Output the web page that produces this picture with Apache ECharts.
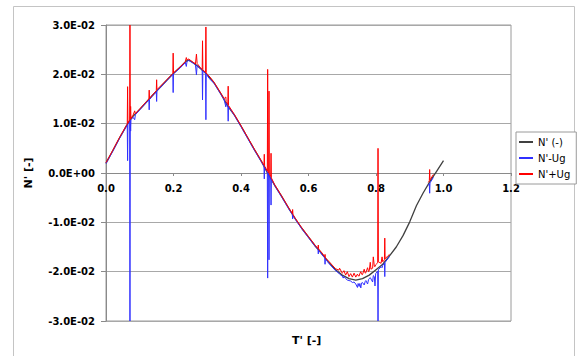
<!DOCTYPE html>
<html><head><meta charset="utf-8">
<script src="https://cdn.jsdelivr.net/npm/echarts@6/dist/echarts.min.js"></script>
<style>html,body{margin:0;padding:0;background:#fff}#c{width:579px;height:356px}</style>
</head><body><div id="c"></div>
<script>
// Series names (legend)
const seriesNames = ["N' (-)", "N'-Ug", "N'+Ug"];
// Axis titles
const xTitle = "T' [-]";
const yTitle = "N' [-]";

// Main curve N' (-)
const tMain = [0.00,0.02,0.04,0.06,0.07,0.08,0.10,0.12,0.14,0.16,0.18,0.20,0.22,0.24,0.245,0.26,0.28,0.30,0.32,0.34,0.36,0.38,0.40,0.42,0.44,0.46,0.48,0.50,0.52,0.54,0.56,0.58,0.60,0.62,0.64,0.66,0.68,0.70,0.72,0.74,0.76,0.78,0.80,0.82,0.84,0.86,0.88,0.90,0.92,0.94,0.96,0.98,1.00];
const nMain = [0.0020,0.0045,0.0071,0.0095,0.0106,0.0115,0.0129,0.0144,0.0159,0.0173,0.0188,0.0202,0.0215,0.0228,0.0229,0.0223,0.0212,0.0199,0.0183,0.0161,0.0136,0.0118,0.0095,0.0071,0.0047,0.0024,-0.0002,-0.0025,-0.0047,-0.0070,-0.0092,-0.0112,-0.0130,-0.0148,-0.0164,-0.0181,-0.0196,-0.0207,-0.0214,-0.0217,-0.0214,-0.0207,-0.0196,-0.0185,-0.0168,-0.0150,-0.0127,-0.0099,-0.0066,-0.0040,-0.0017,0.0004,0.0025];

// N'-Ug and N'+Ug share these T positions (null = no data)
const tUg = [0.000,0.020,0.040,0.060,0.063,0.064,0.065,0.070,0.071,0.072,0.073,0.074,0.080,0.085,0.087,0.100,0.120,0.127,0.128,0.129,0.140,0.149,0.150,0.151,0.180,0.198,0.199,0.200,0.220,0.235,0.238,0.240,0.245,0.255,0.265,0.268,0.270,0.280,0.285,0.286,0.287,0.295,0.296,0.297,0.300,0.305,0.320,0.340,0.350,0.355,0.356,0.361,0.362,0.363,0.380,0.400,0.420,0.440,0.460,0.468,0.469,0.470,0.478,0.479,0.480,0.482,0.483,0.484,0.488,0.489,0.490,0.500,0.520,0.540,0.552,0.553,0.554,0.560,0.580,0.600,0.620,0.628,0.629,0.630,0.640,0.648,0.649,0.650,0.660,0.680,0.690,0.692,0.700,0.703,0.705,0.710,0.715,0.720,0.725,0.730,0.735,0.740,0.745,0.747,0.750,0.752,0.755,0.757,0.760,0.765,0.768,0.770,0.775,0.778,0.780,0.783,0.785,0.790,0.792,0.795,0.797,0.799,0.805,0.806,0.807,0.815,0.818,0.820,0.825,0.826,0.827,0.835,0.840,0.900,0.955,0.958,0.959,0.960,0.970];
const nMinusUg = [0.0019,0.0044,0.0070,0.0094,0.0097,0.0025,0.0099,0.0105,-0.0300,0.0107,0.0085,0.0108,0.0113,0.0108,0.0118,0.0128,0.0143,0.0148,0.0128,0.0149,0.0158,0.0164,0.0145,0.0166,0.0187,0.0200,0.0163,0.0201,0.0213,0.0224,0.0216,0.0226,0.0228,0.0224,0.0219,0.0199,0.0218,0.0211,0.0208,0.0148,0.0207,0.0202,0.0108,0.0201,0.0198,0.0192,0.0182,0.0160,0.0149,0.0134,0.0143,0.0137,0.0105,0.0135,0.0117,0.0094,0.0070,0.0046,0.0023,0.0014,-0.0012,0.0012,0.0002,-0.0213,0.0000,-0.0002,-0.0176,-0.0004,-0.0009,-0.0065,-0.0012,-0.0026,-0.0048,-0.0071,-0.0084,-0.0093,-0.0086,-0.0093,-0.0113,-0.0131,-0.0149,-0.0155,-0.0164,-0.0156,-0.0166,-0.0172,-0.0185,-0.0174,-0.0183,-0.0198,-0.0203,-0.0205,-0.0209,-0.0213,-0.0210,-0.0214,-0.0217,-0.0218,-0.0219,-0.0222,-0.0221,-0.0225,-0.0232,-0.0224,-0.0230,-0.0224,-0.0233,-0.0223,-0.0222,-0.0227,-0.0220,-0.0218,-0.0225,-0.0216,-0.0214,-0.0212,-0.0212,-0.0221,-0.0208,-0.0210,-0.0229,-0.0204,-0.0199,-0.0300,-0.0196,-0.0190,-0.0192,-0.0187,-0.0183,-0.0210,-0.0181,-0.0174,-0.0169,null,-0.0025,-0.0022,-0.0041,-0.0020,-0.0009];
const nPlusUg = [0.0021,0.0046,0.0072,0.0096,0.0099,0.0175,0.0101,0.0107,0.0300,0.0109,0.0135,0.0110,0.0117,0.0126,0.0120,0.0130,0.0145,0.0150,0.0168,0.0151,0.0160,0.0167,0.0189,0.0169,0.0189,0.0202,0.0243,0.0203,0.0215,0.0226,0.0234,0.0229,0.0231,0.0226,0.0221,0.0241,0.0222,0.0213,0.0210,0.0268,0.0209,0.0204,0.0296,0.0203,0.0200,0.0197,0.0184,0.0162,0.0151,0.0154,0.0145,0.0139,0.0176,0.0137,0.0119,0.0096,0.0072,0.0048,0.0025,0.0016,0.0038,0.0014,0.0004,0.0210,0.0002,0.0000,0.0166,-0.0002,-0.0007,0.0040,-0.0010,-0.0024,-0.0046,-0.0069,-0.0082,-0.0074,-0.0084,-0.0091,-0.0111,-0.0129,-0.0147,-0.0153,-0.0146,-0.0154,-0.0162,-0.0170,-0.0165,-0.0172,-0.0179,-0.0194,-0.0197,-0.0193,-0.0203,-0.0201,-0.0198,-0.0207,-0.0200,-0.0210,-0.0204,-0.0211,-0.0203,-0.0211,-0.0205,-0.0208,-0.0209,-0.0204,-0.0200,-0.0205,-0.0206,-0.0195,-0.0203,-0.0202,-0.0192,-0.0200,-0.0198,-0.0181,-0.0195,-0.0193,-0.0170,-0.0189,-0.0190,-0.0186,-0.0182,0.0050,-0.0180,-0.0183,-0.0170,-0.0180,-0.0176,-0.0132,-0.0174,-0.0168,-0.0165,null,-0.0019,-0.0016,0.0007,-0.0014,-0.0003];

// Axis ranges / ticks
const xMin = 0, xMax = 1.2, xStep = 0.2;
const yMin = -0.03, yMax = 0.03, yStep = 0.01;

const colors = ['#404040', '#3030ff', '#ff0000'];
const FONT = 'DejaVu Sans';

function sci(v) {
  const s = Number(v).toExponential(1).split('e');
  const e = parseInt(s[1], 10);
  const sign = e < 0 ? '-' : '+';
  const a = Math.abs(e);
  return s[0] + 'E' + sign + (a < 10 ? '0' + a : '' + a);
}
function pairs(ts, ns) {
  return ts.map((t, i) => [t, ns[i] === null ? '-' : ns[i]]);
}

const GRID = {left: 106, top: 25, width: 405, height: 296};
// distance from grid bottom to the y = 0 line (pixels), from the axis scale
const zeroOffset = GRID.height * (0 - yMin) / (yMax - yMin);

const chart = echarts.init(document.getElementById('c'), null, {renderer: 'svg'});
chart.setOption({
  animation: false,
  backgroundColor: '#ffffff',
  textStyle: {fontFamily: FONT},
  grid: Object.assign({show: true, borderColor: '#9a9a9a', borderWidth: 1, containLabel: false}, GRID),
  graphic: [
    {type: 'rect', shape: {x: 13.5, y: 6.5, width: 561, height: 360}, style: {fill: 'none', stroke: '#c4c4c4', lineWidth: 1}, z: -10},
    {type: 'text', left: 292, top: 335, style: {text: xTitle, font: 'bold 11px "DejaVu Sans"', fill: '#000'}}
  ],
  legend: {
    orient: 'vertical', left: 516, top: 132,
    padding: [4, 6, 4, 3], itemGap: 4, itemWidth: 14, itemHeight: 2, icon: 'rect',
    borderColor: '#9a9a9a', borderWidth: 1, backgroundColor: '#fff',
    textStyle: {fontSize: 10, color: '#000', fontFamily: FONT, lineHeight: 12},
    data: seriesNames
  },
  xAxis: {
    type: 'value', min: xMin, max: xMax, interval: xStep,
    position: 'bottom', offset: -zeroOffset,
    axisLine: {onZero: false, lineStyle: {color: '#8a8a8a', width: 1}},
    axisTick: {show: true, length: 3, lineStyle: {color: '#8a8a8a'}},
    axisLabel: {margin: 10, fontSize: 10, fontWeight: 'bold', color: '#000', fontFamily: FONT,
      formatter: v => Number(v).toFixed(1)},
    splitLine: {show: false}
  },
  yAxis: {
    type: 'value', min: yMin, max: yMax, interval: yStep,
    name: yTitle, nameLocation: 'middle', nameGap: 72, nameRotate: 90,
    nameTextStyle: {fontSize: 11, fontWeight: 'bold', color: '#000', fontFamily: FONT},
    axisLine: {show: true, onZero: false, lineStyle: {color: '#8a8a8a', width: 1}},
    axisTick: {show: true, length: 5, lineStyle: {color: '#8a8a8a'}},
    axisLabel: {margin: 11, fontSize: 10, fontWeight: 'bold', color: '#000', fontFamily: FONT, formatter: sci},
    splitLine: {show: true, lineStyle: {color: '#a8a8a8', width: 1}}
  },
  series: [
    {name: seriesNames[0], type: 'line', data: pairs(tMain, nMain), color: colors[0], showSymbol: false, symbol: 'none', lineStyle: {width: 1.3, color: colors[0]}, clip: true, z: 2},
    {name: seriesNames[1], type: 'line', data: pairs(tUg, nMinusUg), color: colors[1], showSymbol: false, symbol: 'none', lineStyle: {width: 1, color: colors[1]}, connectNulls: false, clip: true, z: 3},
    {name: seriesNames[2], type: 'line', data: pairs(tUg, nPlusUg), color: colors[2], showSymbol: false, symbol: 'none', lineStyle: {width: 1, color: colors[2]}, connectNulls: false, clip: true, z: 4}
  ]
});
</script>
</body></html>
